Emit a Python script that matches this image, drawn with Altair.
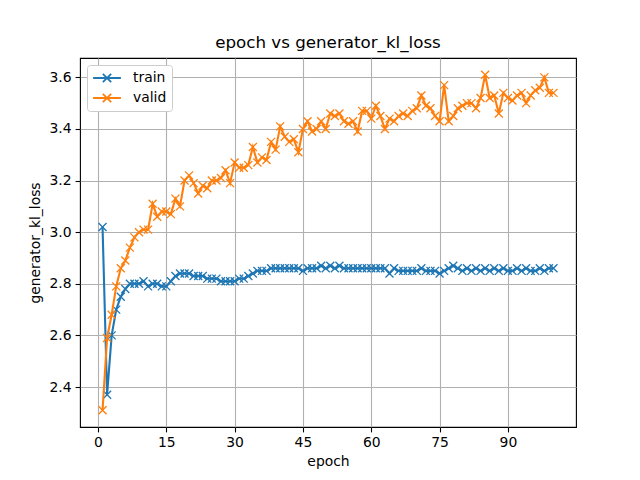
import altair as alt
import pandas as pd

epochs = list(range(1, 101))

train = [3.02, 2.37, 2.60, 2.70, 2.75, 2.78, 2.80, 2.80, 2.80, 2.81,
         2.79, 2.80, 2.80, 2.79, 2.79, 2.81, 2.83, 2.84, 2.84, 2.84,
         2.83, 2.83, 2.83, 2.82, 2.82, 2.82, 2.81, 2.81, 2.81, 2.81,
         2.82, 2.82, 2.83, 2.84, 2.85, 2.85, 2.85, 2.86, 2.86, 2.86,
         2.86, 2.86, 2.86, 2.86, 2.85, 2.86, 2.86, 2.86, 2.87, 2.86,
         2.87, 2.86, 2.87, 2.86, 2.86, 2.86, 2.86, 2.86, 2.86, 2.86,
         2.86, 2.86, 2.86, 2.84, 2.86, 2.85, 2.85, 2.85, 2.85, 2.85,
         2.86, 2.85, 2.85, 2.85, 2.84, 2.85, 2.86, 2.87, 2.86, 2.85,
         2.86, 2.85, 2.86, 2.85, 2.86, 2.85, 2.86, 2.85, 2.86, 2.85,
         2.85, 2.86, 2.85, 2.86, 2.85, 2.85, 2.86, 2.85, 2.86, 2.86]

valid = [2.31, 2.59, 2.68, 2.79, 2.86, 2.89, 2.94, 2.98, 3.00, 3.01,
         3.01, 3.11, 3.06, 3.08, 3.08, 3.07, 3.13, 3.10, 3.20, 3.22,
         3.19, 3.15, 3.18, 3.17, 3.20, 3.20, 3.21, 3.24, 3.19, 3.27,
         3.25, 3.25, 3.26, 3.33, 3.27, 3.29, 3.28, 3.35, 3.32, 3.41,
         3.37, 3.35, 3.36, 3.31, 3.40, 3.43, 3.39, 3.40, 3.43, 3.40,
         3.46, 3.45, 3.46, 3.43, 3.42, 3.43, 3.39, 3.47, 3.47, 3.44,
         3.49, 3.45, 3.40, 3.44, 3.43, 3.45, 3.46, 3.45, 3.47, 3.48,
         3.53, 3.49, 3.48, 3.45, 3.43, 3.57, 3.43, 3.45, 3.48, 3.49,
         3.50, 3.50, 3.48, 3.52, 3.61, 3.52, 3.53, 3.46, 3.54, 3.52,
         3.51, 3.53, 3.54, 3.50, 3.53, 3.55, 3.56, 3.60, 3.54, 3.54]

series_names = ["train", "valid"]
series_colors = ["#1f77b4", "#ff7f0e"]
x_ticks = [0, 15, 30, 45, 60, 75, 90]
y_ticks = [2.4, 2.6, 2.8, 3.0, 3.2, 3.4, 3.6]

df = pd.concat([
    pd.DataFrame({"epoch": epochs, "value": train, "series": "train"}),
    pd.DataFrame({"epoch": epochs, "value": valid, "series": "valid"}),
])

FONT = "DejaVu Sans"
x_enc = alt.X("epoch:Q", scale=alt.Scale(domain=[-3.95, 104.95], nice=False, zero=False),
              axis=alt.Axis(values=x_ticks, title="epoch", format="d"))
y_enc = alt.Y("value:Q", scale=alt.Scale(domain=[2.245, 3.675], nice=False, zero=False),
              axis=alt.Axis(values=y_ticks, title="generator_kl_loss", format=".1f",
                            titlePadding=7))
color_enc = alt.Color("series:N",
                      scale=alt.Scale(domain=series_names, range=series_colors),
                      legend=alt.Legend(
                          title=None, orient="none", legendX=7, legendY=7,
                          symbolType="M-2,0L2,0M-0.6,-0.6L0.6,0.6M-0.6,0.6L0.6,-0.6",
                          symbolSize=193, symbolStrokeWidth=1.8, symbolOffset=7,
                          labelFontSize=13.9, labelFont=FONT, labelOffset=18,
                          labelColor="black",
                          rowPadding=4, padding=5,
                          strokeColor="#cccccc", fillColor="white", cornerRadius=3))

layers = []
for name in series_names:
    base = alt.Chart(df).transform_filter(alt.datum.series == name)
    layers.append(base.mark_line(strokeWidth=2.1).encode(x=x_enc, y=y_enc, color=color_enc))
    layers.append(base.mark_point(shape="M-1,-1L1,1M-1,1L1,-1", size=64, filled=False,
                                  strokeWidth=1.3, opacity=1).encode(x=x_enc, y=y_enc, color=color_enc))

chart = alt.layer(*layers).properties(
    width=496, height=369,
    background="white",
    title=alt.Title("epoch vs generator_kl_loss", fontSize=16.7, font=FONT,
                    fontWeight="normal", offset=6, color="black"),
    autosize=alt.AutoSizeParams(type="none"),
    padding={"left": 72, "top": 50, "right": 56, "bottom": 45},
).configure_view(stroke="black", strokeWidth=1.1).configure_axis(
    grid=True, gridColor="#b0b0b0", gridWidth=1.1, domain=False,
    tickColor="black", tickSize=4.9, tickWidth=1.1,
    labelFont=FONT, labelFontSize=13.9, labelColor="black", labelPadding=4,
    titleFont=FONT, titleFontSize=13.9, titleFontWeight="normal", titleColor="black",
    titlePadding=5,
)

chart.save("out.html", embed_options={"renderer": "svg", "actions": False})
